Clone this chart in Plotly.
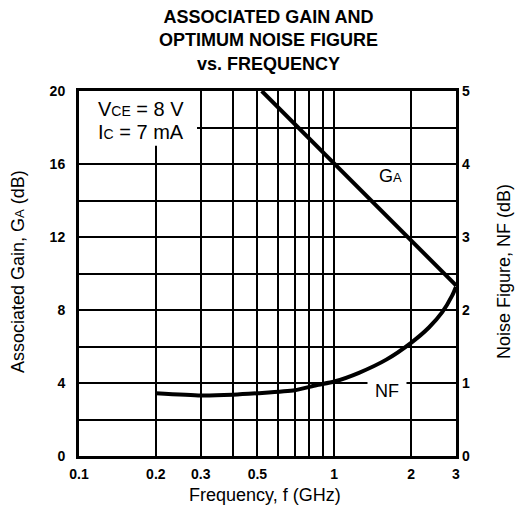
import plotly.graph_objects as go
import math

# ---- data ----
ga_freq = [0.52, 0.7, 1.0, 1.5, 2.0, 3.0]          # GHz
ga_db = [20.0, 18.2, 16.0, 13.6, 11.8, 9.35]        # Associated gain (dB)

nf_freq = [0.2, 0.3, 0.4, 0.5, 0.7, 0.85, 1.0, 1.25, 1.6, 2.0, 2.35, 2.65, 2.9, 3.0]   # GHz
nf_db = [0.86, 0.83, 0.84, 0.86, 0.90, 0.97, 1.02, 1.14, 1.32, 1.55, 1.76, 1.97, 2.2, 2.32]  # dB

x_tickvals = [0.1, 0.2, 0.3, 0.4, 0.5, 0.6, 0.7, 0.8, 0.9, 1, 2, 3]
x_ticktext = ["0.1", "0.2", "0.3", "", "0.5", "", "", "", "", "1", "2", "3"]
y_tickvals = [0, 2, 4, 6, 8, 10, 12, 14, 16, 18, 20]
y_ticktext = ["0", "", "4", "", "8", "", "12", "", "16", "", "20"]
y2_tickvals = [0, 1, 2, 3, 4, 5]

title_lines = ["ASSOCIATED GAIN AND", "OPTIMUM NOISE FIGURE", "vs. FREQUENCY"]

FONT = "Arial, Liberation Sans, Helvetica, sans-serif"
W, H = 517, 512
L, R, T, B = 79, 61, 91, 56
PW, PH = W - L - R, H - T - B


def px(xp):
    return (xp - L) / PW


def py(yp):
    return (H - B - yp) / PH


fig = go.Figure()
fig.add_trace(go.Scatter(x=ga_freq, y=ga_db, mode="lines",
                         line=dict(color="black", width=4), yaxis="y",
                         showlegend=False, hoverinfo="skip"))
fig.add_trace(go.Scatter(x=nf_freq, y=nf_db, mode="lines",
                         line=dict(color="black", width=4, shape="spline", smoothing=0.6),
                         yaxis="y2", showlegend=False, hoverinfo="skip"))

annotations = []
# title
annotations.append(dict(text="<b>" + "<br>".join(title_lines) + "</b>", xref="paper", yref="paper",
                        x=px(268), y=py(41), xanchor="center", yanchor="middle", align="center",
                        showarrow=False, font=dict(family=FONT, size=18, color="black")))
# conditions box
annotations.append(dict(text="V<span style='font-size:14px'>CE</span> = 8 V",
                        xref="paper", yref="paper", x=px(96), y=py(109),
                        xanchor="left", yanchor="middle", showarrow=False,
                        font=dict(family=FONT, size=20, color="black")))
annotations.append(dict(text="I<span style='font-size:14px'>C</span> = 7 mA",
                        xref="paper", yref="paper", x=px(96), y=py(132),
                        xanchor="left", yanchor="middle", showarrow=False,
                        font=dict(family=FONT, size=20, color="black")))
# curve labels
annotations.append(dict(text="G<span style='font-size:13px'>A</span>",
                        xref="paper", yref="paper", x=px(390), y=py(176),
                        xanchor="center", yanchor="middle", showarrow=False,
                        font=dict(family=FONT, size=18, color="black")))
annotations.append(dict(text="NF", xref="paper", yref="paper", x=px(387), y=py(391),
                        xanchor="center", yanchor="middle", showarrow=False,
                        bgcolor="white", borderpad=7,
                        font=dict(family=FONT, size=18, color="black")))
# axis titles
annotations.append(dict(text="Frequency, f (GHz)", xref="paper", yref="paper",
                        x=px(265), y=py(495), xanchor="center", yanchor="middle",
                        showarrow=False, font=dict(family=FONT, size=18, color="black")))
annotations.append(dict(text="Associated Gain, G<span style='font-size:13px'>A</span> (dB)",
                        xref="paper", yref="paper", x=px(18), y=py(272), textangle=-90,
                        xanchor="center", yanchor="middle", showarrow=False,
                        font=dict(family=FONT, size=18, color="black")))
annotations.append(dict(text="Noise Figure, NF (dB)", xref="paper", yref="paper",
                        x=px(504), y=py(272), textangle=-90,
                        xanchor="center", yanchor="middle", showarrow=False,
                        font=dict(family=FONT, size=18, color="black")))

shapes = [dict(type="rect", xref="x", yref="y", x0=0.1, x1=0.29, y0=17, y1=20,
               fillcolor="white", line=dict(width=0), layer="between")]

fig.update_layout(
    width=W, height=H,
    margin=dict(l=L, r=R, t=T, b=B),
    paper_bgcolor="white", plot_bgcolor="white",
    font=dict(family=FONT, color="black"),
    annotations=annotations,
    shapes=shapes,
    xaxis=dict(type="log", range=[-1, math.log10(3)], tickmode="array",
               tickvals=x_tickvals, ticktext=x_ticktext,
               showgrid=True, gridcolor="black", gridwidth=2,
               showline=True, linecolor="black", linewidth=3, mirror=True,
               ticks="", zeroline=False, ticklabelstandoff=3,
               tickfont=dict(family=FONT, size=14, color="black", weight="bold")),
    yaxis=dict(range=[0, 20], tickmode="array", tickvals=y_tickvals, ticktext=y_ticktext,
               showgrid=True, gridcolor="black", gridwidth=2,
               showline=True, linecolor="black", linewidth=3, mirror=True,
               ticks="", zeroline=False, ticklabelstandoff=8,
               tickfont=dict(family=FONT, size=14, color="black", weight="bold")),
    yaxis2=dict(range=[0, 5], overlaying="y", side="right", tickmode="array",
                tickvals=y2_tickvals, showgrid=False, showline=False, zeroline=False,
                ticks="", ticklabelstandoff=5,
                tickfont=dict(family=FONT, size=14, color="black", weight="bold")),
)

fig.write_html("out.html", config={"displayModeBar": False},
               post_script="document.body.style.margin='0px';")
